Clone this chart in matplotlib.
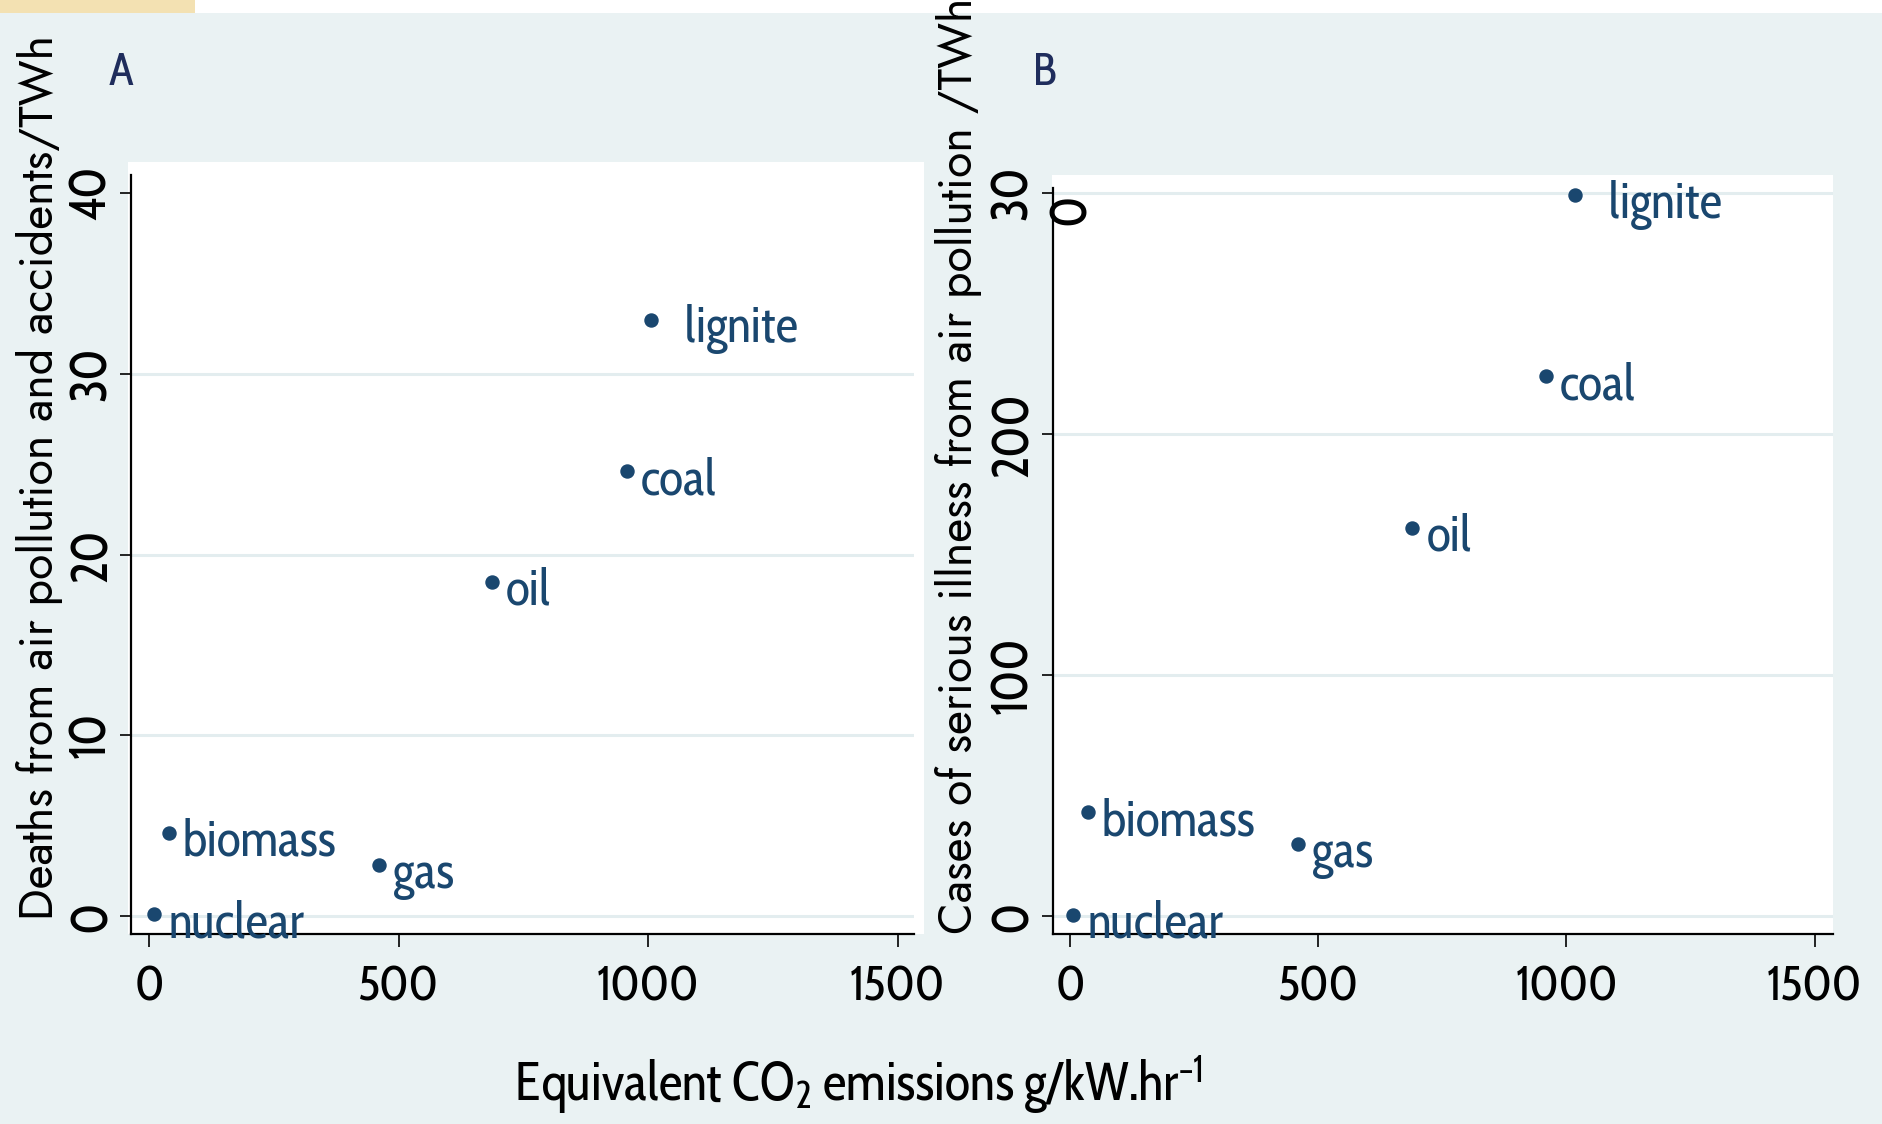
import matplotlib.pyplot as plt
from matplotlib.patches import Rectangle

# data
fuels = ['nuclear', 'biomass', 'gas', 'oil', 'coal', '  lignite']
co2_a = [10, 39, 460, 687, 957, 1006]
deaths = [0.1, 4.6, 2.8, 18.5, 24.6, 33.0]
co2_b = [7, 36, 459, 690, 958, 1018]
illness = [0.4, 43, 30, 161, 224, 299]

xticks = [0, 500, 1000, 1500]
yticks_a = [0, 10, 20, 30, 40]
yticks_b = [0, 100, 200, 300]
ylabels_b = ['0', '100', '200', '30']

W, H = 1883, 1124
BG = '#EAF2F3'
NAVY = '#1A476F'
GILL = ['Cabin Condensed', 'DejaVu Sans']
GOTHIC = ['Jost', 'DejaVu Sans']

plt.rcParams['font.family'] = GILL
plt.rcParams['mathtext.fontset'] = 'custom'
plt.rcParams['mathtext.rm'] = 'Cabin Condensed'
plt.rcParams['mathtext.it'] = 'Cabin Condensed'

fig = plt.figure(figsize=(W / 100, H / 100), dpi=100, facecolor=BG)


def box(x0, y0, x1, y1):
    # pixel box (from top-left) -> figure fraction rect
    return [x0 / W, 1 - y1 / H, (x1 - x0) / W, (y1 - y0) / H]


def add_rect(x0, y0, x1, y1, color):
    l, b, w, h = box(x0, y0, x1, y1)
    fig.patches.append(Rectangle((l, b), w, h, transform=fig.transFigure,
                                 facecolor=color, edgecolor='none', zorder=-5))


# strip along the top
add_rect(0, 0, W, 12.7, 'white')
add_rect(0, 0, 195, 12.7, '#F3E1B2')

# white plot regions (a bit bigger than the axes)
add_rect(128, 162, 924, 934, 'white')
add_rect(1052, 175, 1833, 934, 'white')


def panel(pos, x, y, xlim, ylim, yticks, yticklabels, grid_vals):
    ax = fig.add_axes(box(*pos))
    ax.set_facecolor('none')
    ax.scatter(x, y, s=88, color=NAVY, zorder=3, clip_on=False)
    for xi, yi, name in zip(x, y, fuels):
        ax.annotate(name, (xi, yi), xytext=(10, -16.5), textcoords='offset points',
                    va='baseline', ha='left', color=NAVY, fontsize=36, zorder=4,
                    annotation_clip=False)
    for g in grid_vals:
        ax.axhline(g, color='#E3EDEF', lw=2.2, zorder=1)
    ax.set_xlim(xlim)
    ax.set_ylim(ylim)
    ax.set_xticks(xticks)
    ax.set_yticks(yticks)
    ax.set_yticklabels(yticklabels)
    for s in ['top', 'right']:
        ax.spines[s].set_visible(False)
    for s in ['left', 'bottom']:
        ax.spines[s].set_linewidth(1.6)
    ax.tick_params(axis='x', length=9, width=1.2, pad=13, labelsize=35)
    ax.tick_params(axis='y', length=8, width=1.2, pad=1, labelsize=37,
                   labelrotation=90)
    for t in ax.get_yticklabels():
        t.set_va('center')
    return ax


ax_a = panel((131, 175, 914, 934), co2_a, deaths, (-37, 1533), (-1.0, 41.0),
             yticks_a, [str(v) for v in yticks_a], yticks_a[:-1])
ax_b = panel((1052.5, 187.5, 1833, 934), co2_b, illness, (-35, 1537), (-7.5, 302.3),
             yticks_b, ylabels_b, yticks_b)

# stray digit of the "300" label inside panel B
fig.text(1072 / W, 1 - 209 / H, '0', rotation=90, ha='center', va='center',
         fontsize=37)

# panel letters
fig.text(121 / W, 1 - 73 / H, 'A', ha='center', va='center', fontsize=33,
         color='#1F2D5C')
fig.text(1045 / W, 1 - 73 / H, 'B', ha='center', va='center', fontsize=33,
         color='#1F2D5C')

# axis titles
fig.text(40 / W, 1 - 477 / H, 'Deaths from air pollution and accidents/TWh',
         rotation=90, ha='center', va='center', fontsize=33.4, family=GOTHIC,
         fontweight='medium')
fig.text(958 / W, 1 - 934 / H, 'Cases of serious illness from air pollution /TWh',
         rotation=90, ha='center', va='bottom', fontsize=33.4, family=GOTHIC,
         fontweight='medium')
fig.text(858 / W, 1 - 1085 / H, 'Equivalent CO$_2$ emissions g/kW.hr$^{-1}$',
         ha='center', va='center', fontsize=38)

fig.savefig('out.png', dpi=100, facecolor=BG)
